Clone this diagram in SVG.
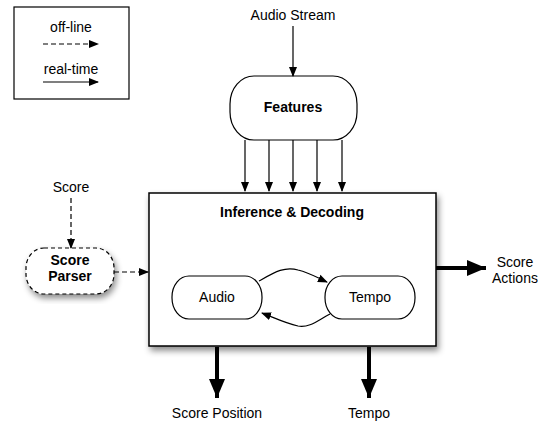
<svg xmlns="http://www.w3.org/2000/svg" width="553" height="423" viewBox="0 0 553 423">
<defs>
<style>
text{font-family:"Liberation Sans",Arial,sans-serif;font-size:14px;fill:#000;text-anchor:middle}
.b{font-weight:bold}
.thin{stroke:#000;stroke-width:1.2;fill:none}
.dash{stroke:#000;stroke-width:1.2;fill:none;stroke-dasharray:5,3}
.thick{stroke:#000;stroke-width:4;fill:none}
.node{fill:#fff;stroke:#000;stroke-width:1.2}
</style>
<marker id="ah" markerWidth="10" markerHeight="10" refX="9" refY="5" orient="auto" markerUnits="userSpaceOnUse"><path d="M0,1 L10,5 L0,9 Z" fill="#000"/></marker>
<marker id="ahl" markerWidth="20" markerHeight="18" refX="19" refY="9" orient="auto" markerUnits="userSpaceOnUse"><path d="M0,1 L19,9 L0,17 Z" fill="#000"/></marker>
<filter id="sh" x="-10%" y="-10%" width="125%" height="130%"><feDropShadow dx="2" dy="4" stdDeviation="3" flood-color="#000" flood-opacity="0.45"/></filter>
</defs>

<g id="legend">
<rect x="14" y="7" width="115" height="92" fill="#fff" stroke="#000" stroke-width="1.2"/>
<text x="71" y="32">off-line</text>
<line class="dash" x1="43" y1="44" x2="98" y2="44" marker-end="url(#ah)"/>
<text x="71" y="74">real-time</text>
<line class="thin" x1="43" y1="82" x2="98" y2="82" marker-end="url(#ah)"/>
</g>

<g id="audio-stream"><text x="293" y="20">Audio Stream</text></g>
<g id="features">
<rect class="node" x="230" y="76" width="127" height="64" rx="24" ry="28"/>
<text class="b" x="293" y="112">Features</text>
</g>

<g id="score-label"><text x="71" y="192">Score</text></g>
<g id="score-parser">
<rect x="26" y="248" width="88" height="46" rx="18" ry="20" fill="#fff" stroke="#000" stroke-width="1.2" stroke-dasharray="4,3" filter="url(#sh)"/>
<text class="b" x="70" y="265">Score</text>
<text class="b" x="70" y="281">Parser</text>
</g>

<g id="inference">
<rect x="149" y="193" width="287" height="153" fill="#fff" stroke="#000" stroke-width="1.5" filter="url(#sh)"/>
<text class="b" x="292" y="217">Inference &amp; Decoding</text>
</g>
<g id="audio">
<rect class="node" x="172" y="276" width="90" height="43" rx="17" ry="21"/>
<text x="217" y="302">Audio</text>
</g>
<g id="tempo-node">
<rect class="node" x="325" y="276" width="90" height="43" rx="17" ry="21"/>
<text x="370" y="302">Tempo</text>
</g>

<g id="score-actions"><text x="515" y="267">Score</text><text x="515" y="283">Actions</text></g>
<g id="score-position"><text x="217" y="418">Score Position</text></g>
<g id="tempo-out"><text x="369" y="418">Tempo</text></g>

<g id="connectors">
<line class="thin" x1="293" y1="26" x2="293" y2="76" marker-end="url(#ah)"/>
<line class="thin" x1="245" y1="140" x2="245" y2="191" marker-end="url(#ah)"/>
<line class="thin" x1="269" y1="140" x2="269" y2="191" marker-end="url(#ah)"/>
<line class="thin" x1="293" y1="140" x2="293" y2="191" marker-end="url(#ah)"/>
<line class="thin" x1="317" y1="140" x2="317" y2="191" marker-end="url(#ah)"/>
<line class="thin" x1="342" y1="140" x2="342" y2="191" marker-end="url(#ah)"/>
<line class="dash" x1="71" y1="198" x2="71" y2="248" marker-end="url(#ah)"/>
<line class="dash" x1="114" y1="272" x2="148" y2="272" marker-end="url(#ah)"/>
<path class="thin" d="M259,281 C275,272 285,266 298,270 C310,273 318,278 327,282" marker-end="url(#ah)"/>
<path class="thin" d="M330,314 C318,320 310,328 298,326 C285,323 275,318 262,313" marker-end="url(#ah)"/>
<line class="thick" x1="436" y1="268" x2="486" y2="268" marker-end="url(#ahl)"/>
<line class="thick" x1="217" y1="347" x2="217" y2="398" marker-end="url(#ahl)"/>
<line class="thick" x1="369" y1="347" x2="369" y2="398" marker-end="url(#ahl)"/>
</g>
</svg>
